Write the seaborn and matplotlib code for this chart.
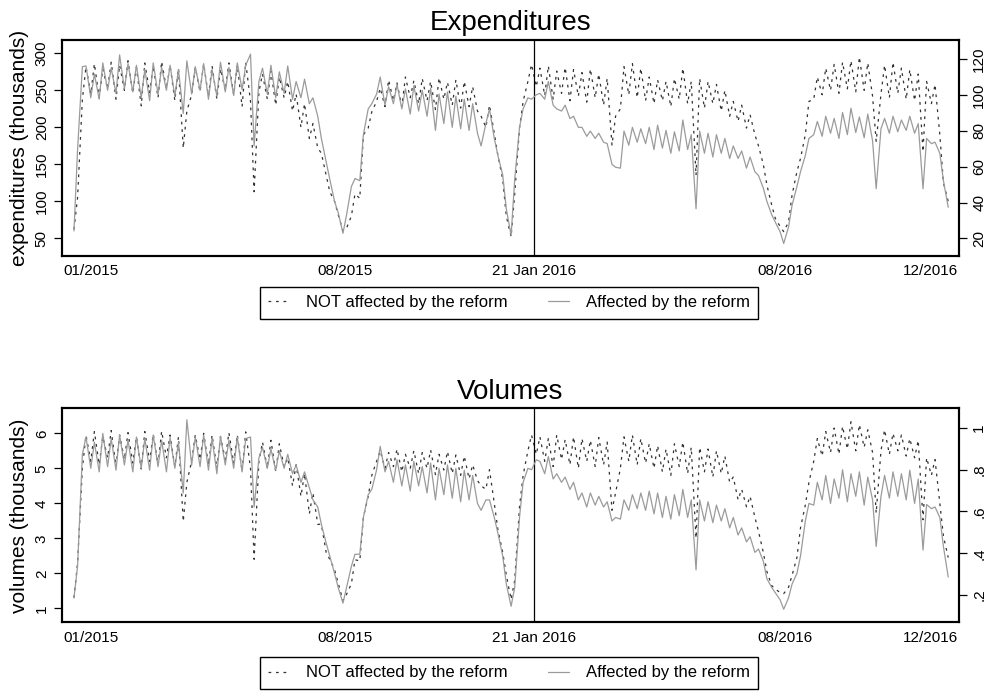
import pandas as pd
import matplotlib
matplotlib.use("Agg")
import matplotlib.pyplot as plt
import seaborn as sns

# =====================================================================
# 1. Data: one Tuesday and one Saturday reading per week (Jan 2015 - Dec 2016)
# =====================================================================
saturdays = pd.date_range("2015-01-03", "2016-12-31", freq="7D")
tuesdays = pd.date_range("2015-01-06", "2016-12-27", freq="7D")
days = saturdays.append(tuesdays).sort_values()

# expenditures, NOT affected (left axis, thousands)
exp_not_affected = [62,
    105, 238, 282, 245, 286, 240, 279, 252,            # Jan 2015
    288, 238, 284, 250, 290, 246, 281, 229,            # Feb
    287, 247, 283, 240, 289, 252, 284, 236,            # Mar
    280, 172, 222, 244, 281, 248, 286, 242,            # Apr
    283, 238, 279, 250, 287, 244, 284, 228, 288, 235,  # May
    113, 248, 272, 238, 276, 230, 268, 240,            # Jun
    262, 222, 245, 200, 232, 185, 205, 172,            # Jul
    165, 135, 113, 100, 82, 60, 64, 80, 110, 104,      # Aug
    190, 199, 221, 235, 253, 228, 264, 236,            # Sep
    260, 228, 268, 240, 263, 232, 266, 236, 262, 224,  # Oct
    267, 238, 261, 230, 264, 226, 262, 228,            # Nov
    255, 222, 215, 200, 230, 192, 162, 130, 80, 52,    # Dec
    110, 199, 235, 262, 285, 255, 280, 243,            # Jan 2016
    283, 238, 276, 246, 281, 236, 278, 242,            # Feb
    274, 234, 279, 240, 272, 230, 266, 176,            # Mar
    215, 225, 282, 244, 286, 240, 280, 236, 268, 232,  # Apr
    264, 236, 262, 228, 266, 238, 280, 232,            # May
    262, 135, 266, 226, 262, 232, 258, 222, 250, 215,  # Jun
    235, 208, 230, 199, 217, 190, 175, 150,            # Jul
    122, 95, 77, 66, 59, 72, 109, 140, 158, 190,       # Aug
    235, 238, 268, 244, 280, 250, 285, 246,            # Sep
    288, 252, 290, 248, 295, 250, 287, 242,            # Oct
    181, 245, 284, 240, 288, 246, 280, 238, 278, 236,  # Nov
    272, 167, 262, 232, 258, 190, 125, 100]            # Dec

# expenditures, affected (right axis)
exp_affected = [24.1,
    69.6, 115.9, 116.3, 98.5, 111.8, 97.7, 118.0, 102.7,
    115.1, 101.0, 122.5, 103.5, 117.6, 101.8, 116.7, 98.5,
    114.3, 96.9, 118.0, 100.6, 115.5, 102.7, 116.7, 99.4,
    114.3, 89.8, 119.2, 100.6, 115.9, 102.7, 117.6, 97.7,
    114.3, 99.4, 118.4, 101.8, 115.5, 99.8, 118.0, 103.1, 116.7, 122.9,
    71.6, 107.6, 115.1, 100.6, 116.7, 98.5, 113.0, 101.0,
    116.3, 97.7, 107.6, 98.5, 108.9, 95.2, 98.5, 88.2,
    75.8, 62.6, 53.0, 40.6, 34.4, 22.8, 33.2, 48.9, 53.4, 52.2,
    77.9, 92.3, 95.2, 100.6, 110.1, 94.4, 104.7, 95.2,
    106.0, 92.3, 103.5, 89.4, 105.2, 91.1, 102.7, 88.2, 103.9, 80.3,
    100.6, 84.1, 101.8, 82.0, 99.4, 81.2, 97.7, 80.3,
    95.2, 78.7, 71.6, 84.1, 92.3, 75.8, 66.3, 55.5, 36.5, 21.6,
    53.0, 82.0, 92.3, 98.5, 97.7, 100.2, 101.0, 97.7,
    107.6, 94.4, 92.3, 91.1, 94.4, 86.9, 88.2, 82.0,
    82.0, 77.0, 79.9, 75.8, 78.7, 73.7, 72.9, 61.3,
    59.7, 59.2, 79.9, 72.0, 82.0, 73.7, 81.2, 72.9, 82.0, 69.6,
    83.2, 70.4, 80.3, 67.5, 79.5, 68.8, 86.1, 69.6,
    77.9, 36.5, 79.9, 67.5, 78.7, 65.4, 77.9, 67.5, 75.8, 64.6,
    71.6, 64.6, 68.8, 59.2, 65.4, 57.2, 55.1, 48.1,
    40.6, 33.2, 29.0, 23.7, 17.1, 26.2, 38.6, 48.9, 57.2, 66.3,
    75.8, 77.9, 85.3, 77.0, 88.2, 78.7, 87.0, 75.8,
    90.3, 77.9, 92.7, 79.1, 87.8, 76.2, 89.4, 74.5,
    47.7, 81.2, 87.0, 78.7, 88.2, 79.5, 86.1, 80.3, 88.2, 78.7,
    84.1, 47.7, 75.8, 72.9, 73.7, 67.5, 52.2, 37.3]

# volumes, NOT affected (left axis, thousands)
vol_not_affected = [1.3,
    2.3, 5.0, 5.95, 5.2, 6.05, 5.1, 5.9, 5.3,
    6.08, 5.05, 5.95, 5.25, 6.02, 5.15, 5.9, 4.98,
    6.05, 5.2, 5.98, 5.1, 6.06, 5.3, 5.95, 5.05,
    5.9, 3.48, 4.6, 5.2, 5.95, 5.25, 6.0, 5.1,
    5.95, 5.0, 5.9, 5.25, 6.02, 5.15, 5.96, 4.9, 6.04, 5.0,
    2.4, 5.2, 5.75, 5.0, 5.8, 4.9, 5.7, 5.05,
    5.3, 4.5, 5.1, 4.2, 4.85, 3.7, 4.3, 3.4,
    3.4, 2.6, 2.4, 2.1, 1.72, 1.22, 1.4, 1.7, 2.39, 2.35,
    3.6, 4.2, 4.8, 5.2, 5.5, 5.0, 5.45, 5.05,
    5.55, 4.9, 5.4, 5.0, 5.5, 4.85, 5.45, 5.0, 5.52, 4.82,
    5.4, 4.95, 5.48, 4.85, 5.38, 4.8, 5.35, 4.7,
    5.1, 4.65, 4.5, 4.4, 4.96, 4.0, 3.25, 2.6, 1.95, 1.25,
    1.8, 3.9, 4.8, 5.5, 5.95, 5.4, 5.9, 5.2,
    5.85, 5.05, 5.95, 5.25, 5.82, 5.1, 5.9, 5.0,
    5.85, 5.2, 5.8, 5.05, 5.88, 5.1, 5.75, 3.8,
    4.3, 5.0, 5.9, 5.2, 5.95, 5.1, 5.85, 5.15, 5.7, 5.0,
    5.65, 4.9, 5.55, 4.8, 5.7, 5.05, 5.75, 4.85,
    5.6, 3.0, 5.6, 4.9, 5.55, 4.75, 5.5, 4.85, 5.35, 4.6,
    4.75, 4.1, 4.4, 3.9, 4.2, 3.6, 3.2, 2.6,
    2.05, 1.65, 1.55, 1.45, 1.42, 1.6, 1.95, 2.45, 3.3, 3.95,
    4.6, 5.2, 5.85, 5.35, 6.05, 5.45, 6.15, 5.4,
    6.2, 5.55, 6.33, 5.5, 6.25, 5.6, 6.1, 5.45,
    3.72, 5.5, 6.1, 5.4, 6.0, 5.5, 5.95, 5.35, 5.85, 5.3,
    5.8, 3.53, 5.3, 4.8, 5.25, 4.0, 3.06, 2.45]

# volumes, affected (right axis)
vol_affected = [0.186,
    0.337, 0.873, 0.956, 0.806, 0.931, 0.789, 0.973, 0.814,
    0.948, 0.797, 0.965, 0.822, 0.940, 0.789, 0.956, 0.806,
    0.948, 0.797, 0.965, 0.814, 0.940, 0.789, 0.953, 0.806,
    0.931, 0.688, 1.038, 0.822, 0.956, 0.814, 0.965, 0.797,
    0.948, 0.780, 0.960, 0.822, 0.940, 0.806, 0.956, 0.789, 0.948, 0.956,
    0.621, 0.856, 0.906, 0.806, 0.898, 0.797, 0.889, 0.806,
    0.873, 0.780, 0.822, 0.739, 0.789, 0.713, 0.655, 0.621,
    0.538, 0.449, 0.387, 0.303, 0.236, 0.161, 0.236, 0.337, 0.395, 0.395,
    0.571, 0.680, 0.705, 0.799, 0.911, 0.789, 0.839, 0.739,
    0.847, 0.722, 0.822, 0.697, 0.839, 0.722, 0.814, 0.688, 0.831, 0.655,
    0.806, 0.680, 0.822, 0.663, 0.806, 0.646, 0.797, 0.655,
    0.772, 0.638, 0.605, 0.655, 0.655, 0.571, 0.496, 0.387, 0.253, 0.146,
    0.236, 0.571, 0.739, 0.806, 0.799, 0.847, 0.839, 0.780,
    0.862, 0.755, 0.780, 0.739, 0.764, 0.705, 0.739, 0.655,
    0.688, 0.621, 0.688, 0.630, 0.672, 0.621, 0.646, 0.554,
    0.571, 0.563, 0.655, 0.605, 0.680, 0.613, 0.688, 0.605, 0.697, 0.588,
    0.688, 0.571, 0.672, 0.563, 0.680, 0.579, 0.705, 0.571,
    0.655, 0.320, 0.655, 0.554, 0.646, 0.546, 0.630, 0.554, 0.613, 0.521,
    0.571, 0.487, 0.521, 0.454, 0.479, 0.404, 0.420, 0.362,
    0.278, 0.236, 0.211, 0.177, 0.132, 0.186, 0.253, 0.303, 0.387, 0.554,
    0.638, 0.630, 0.739, 0.655, 0.772, 0.638, 0.755, 0.663,
    0.799, 0.646, 0.780, 0.672, 0.789, 0.630, 0.764, 0.655,
    0.432, 0.672, 0.772, 0.663, 0.789, 0.672, 0.780, 0.655, 0.797, 0.638,
    0.755, 0.415, 0.633, 0.613, 0.621, 0.571, 0.432, 0.286]

reform_day = pd.Timestamp("2016-01-21")
tick_days = pd.to_datetime(["2015-01-17", "2015-08-17", "2016-01-21", "2016-08-17", "2016-12-16"])
tick_labels = ["01/2015", "08/2015", "21 Jan 2016", "08/2016", "12/2016"]
legend_labels = ["NOT affected by the reform", "Affected by the reform"]

# =====================================================================
# 2. Style
# =====================================================================
sns.set_style("white")
plt.rcParams["font.family"] = ["Liberation Sans", "DejaVu Sans"]
plt.rcParams.update({"axes.edgecolor": "black", "text.color": "black",
                     "xtick.color": "black", "ytick.color": "black",
                     "axes.labelcolor": "black"})

fig = plt.figure(figsize=(9.93, 6.91), dpi=100)


def draw_panel(rect, title, ylabel, left_vals, right_vals, left_lim, right_lim,
               left_ticks, right_ticks, right_labels, legend_top):
    ax = fig.add_axes(rect)
    axr = ax.twinx()
    sns.lineplot(x=days, y=left_vals, ax=ax, color="#333333", lw=0.9,
                 linestyle=(0, (2.2, 3.8)), estimator=None, sort=False)
    sns.lineplot(x=days, y=right_vals, ax=axr, color="#9b9b9b", lw=0.9,
                 estimator=None, sort=False)
    ax.axvline(reform_day, color="black", lw=0.9)

    ax.set_xlim(pd.Timestamp("2014-12-24"), pd.Timestamp("2017-01-09"))
    ax.set_ylim(*left_lim)
    axr.set_ylim(*right_lim)
    ax.set_xticks(tick_days)
    ax.set_xticklabels(tick_labels)
    ax.set_yticks(left_ticks)
    ax.set_yticklabels([str(t) for t in left_ticks], rotation=90, va="center")
    axr.set_yticks(right_ticks)
    axr.set_yticklabels(right_labels, rotation=90, va="center")
    ax.tick_params(axis="x", length=0, pad=6, labelsize=11)
    ax.tick_params(axis="y", length=5.5, width=0.9, pad=4, labelsize=11)
    axr.tick_params(axis="y", length=5.5, width=0.9, pad=4, labelsize=11)

    for a in (ax, axr):
        for sp in a.spines.values():
            sp.set_visible(True)
            sp.set_color("black")
            sp.set_linewidth(1.5)
    ax.set_xlabel("")
    axr.set_ylabel("")
    ax.set_ylabel(ylabel, fontsize=15, labelpad=4)
    ax.set_title(title, fontsize=20, pad=7)

    handles = [ax.get_lines()[0], axr.get_lines()[0]]
    leg = fig.legend(handles, legend_labels, loc="upper center",
                     bbox_to_anchor=(0.5126, legend_top), ncol=2,
                     frameon=True, fancybox=False, edgecolor="black",
                     framealpha=1, fontsize=12, handlelength=1.3,
                     handletextpad=1.0, columnspacing=2.4, borderpad=0.5,
                     borderaxespad=0)
    leg.get_frame().set_linewidth(1.0)
    return ax, axr


draw_panel([0.0624, 0.6295, 0.9034, 0.3126], "Expenditures",
           "expenditures (thousands)", exp_not_affected, exp_affected,
           (26.1, 318), (10.1, 130.8), [50, 100, 150, 200, 250, 300],
           [20, 40, 60, 80, 100, 120], ["20", "40", "60", "80", "100", "120"],
           0.5847)

draw_panel([0.0624, 0.0994, 0.9034, 0.3097], "Volumes",
           "volumes (thousands)", vol_not_affected, vol_affected,
           (0.6, 6.714), (0.0694, 1.093), [1, 2, 3, 4, 5, 6],
           [0.2, 0.4, 0.6, 0.8, 1.0], [".2", ".4", ".6", ".8", "1"],
           0.0492)

fig.savefig("out.png", dpi=100)
